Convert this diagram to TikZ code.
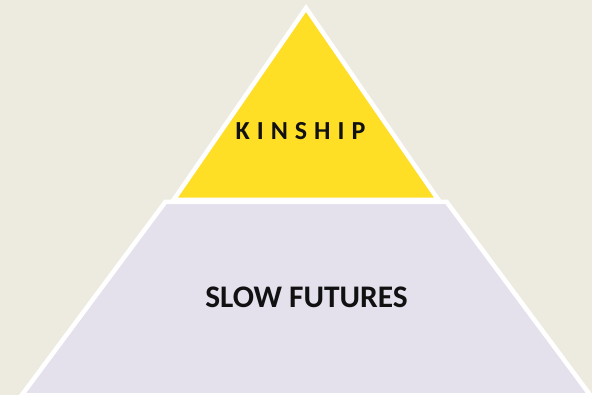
\documentclass[tikz,border=0pt]{standalone}
\usepackage{fontspec}
\setmainfont{Carlito}
\definecolor{paper}{RGB}{237,235,224}
\definecolor{topyellow}{RGB}{255,222,38}
\definecolor{lavender}{RGB}{228,224,236}
\definecolor{ink}{RGB}{17,17,17}
\tikzset{
  layer/.style={draw=white,line width=4.5pt,line join=miter},
  label/.style={text=ink,font=\bfseries}
}
\begin{document}
\begin{tikzpicture}[x=1pt,y=-1pt]
      \useasboundingbox (0,0) rectangle (592,395);
      \fill[paper] (0,0) rectangle (592,395);
      \begin{scope}
        % lower band
        \draw[layer,fill=lavender] (165.3,202)--(446.7,202)--(590.5,395.5)--(21.5,395.5)--cycle;
        % top triangle
        \draw[layer,fill=topyellow] (306,8)--(438.5,200)--(173.5,200)--cycle;
      \end{scope}
      \node[label,font=\bfseries\fontsize{26}{30}\selectfont\addfontfeature{LetterSpace=27}] (kinship) at (300.5,131){KINSHIP};
      \node[label,font=\bfseries\fontsize{31.4}{36}\selectfont] (slow) at (306.5,297){SLOW FUTURES};
    \end{tikzpicture}
\end{document}
